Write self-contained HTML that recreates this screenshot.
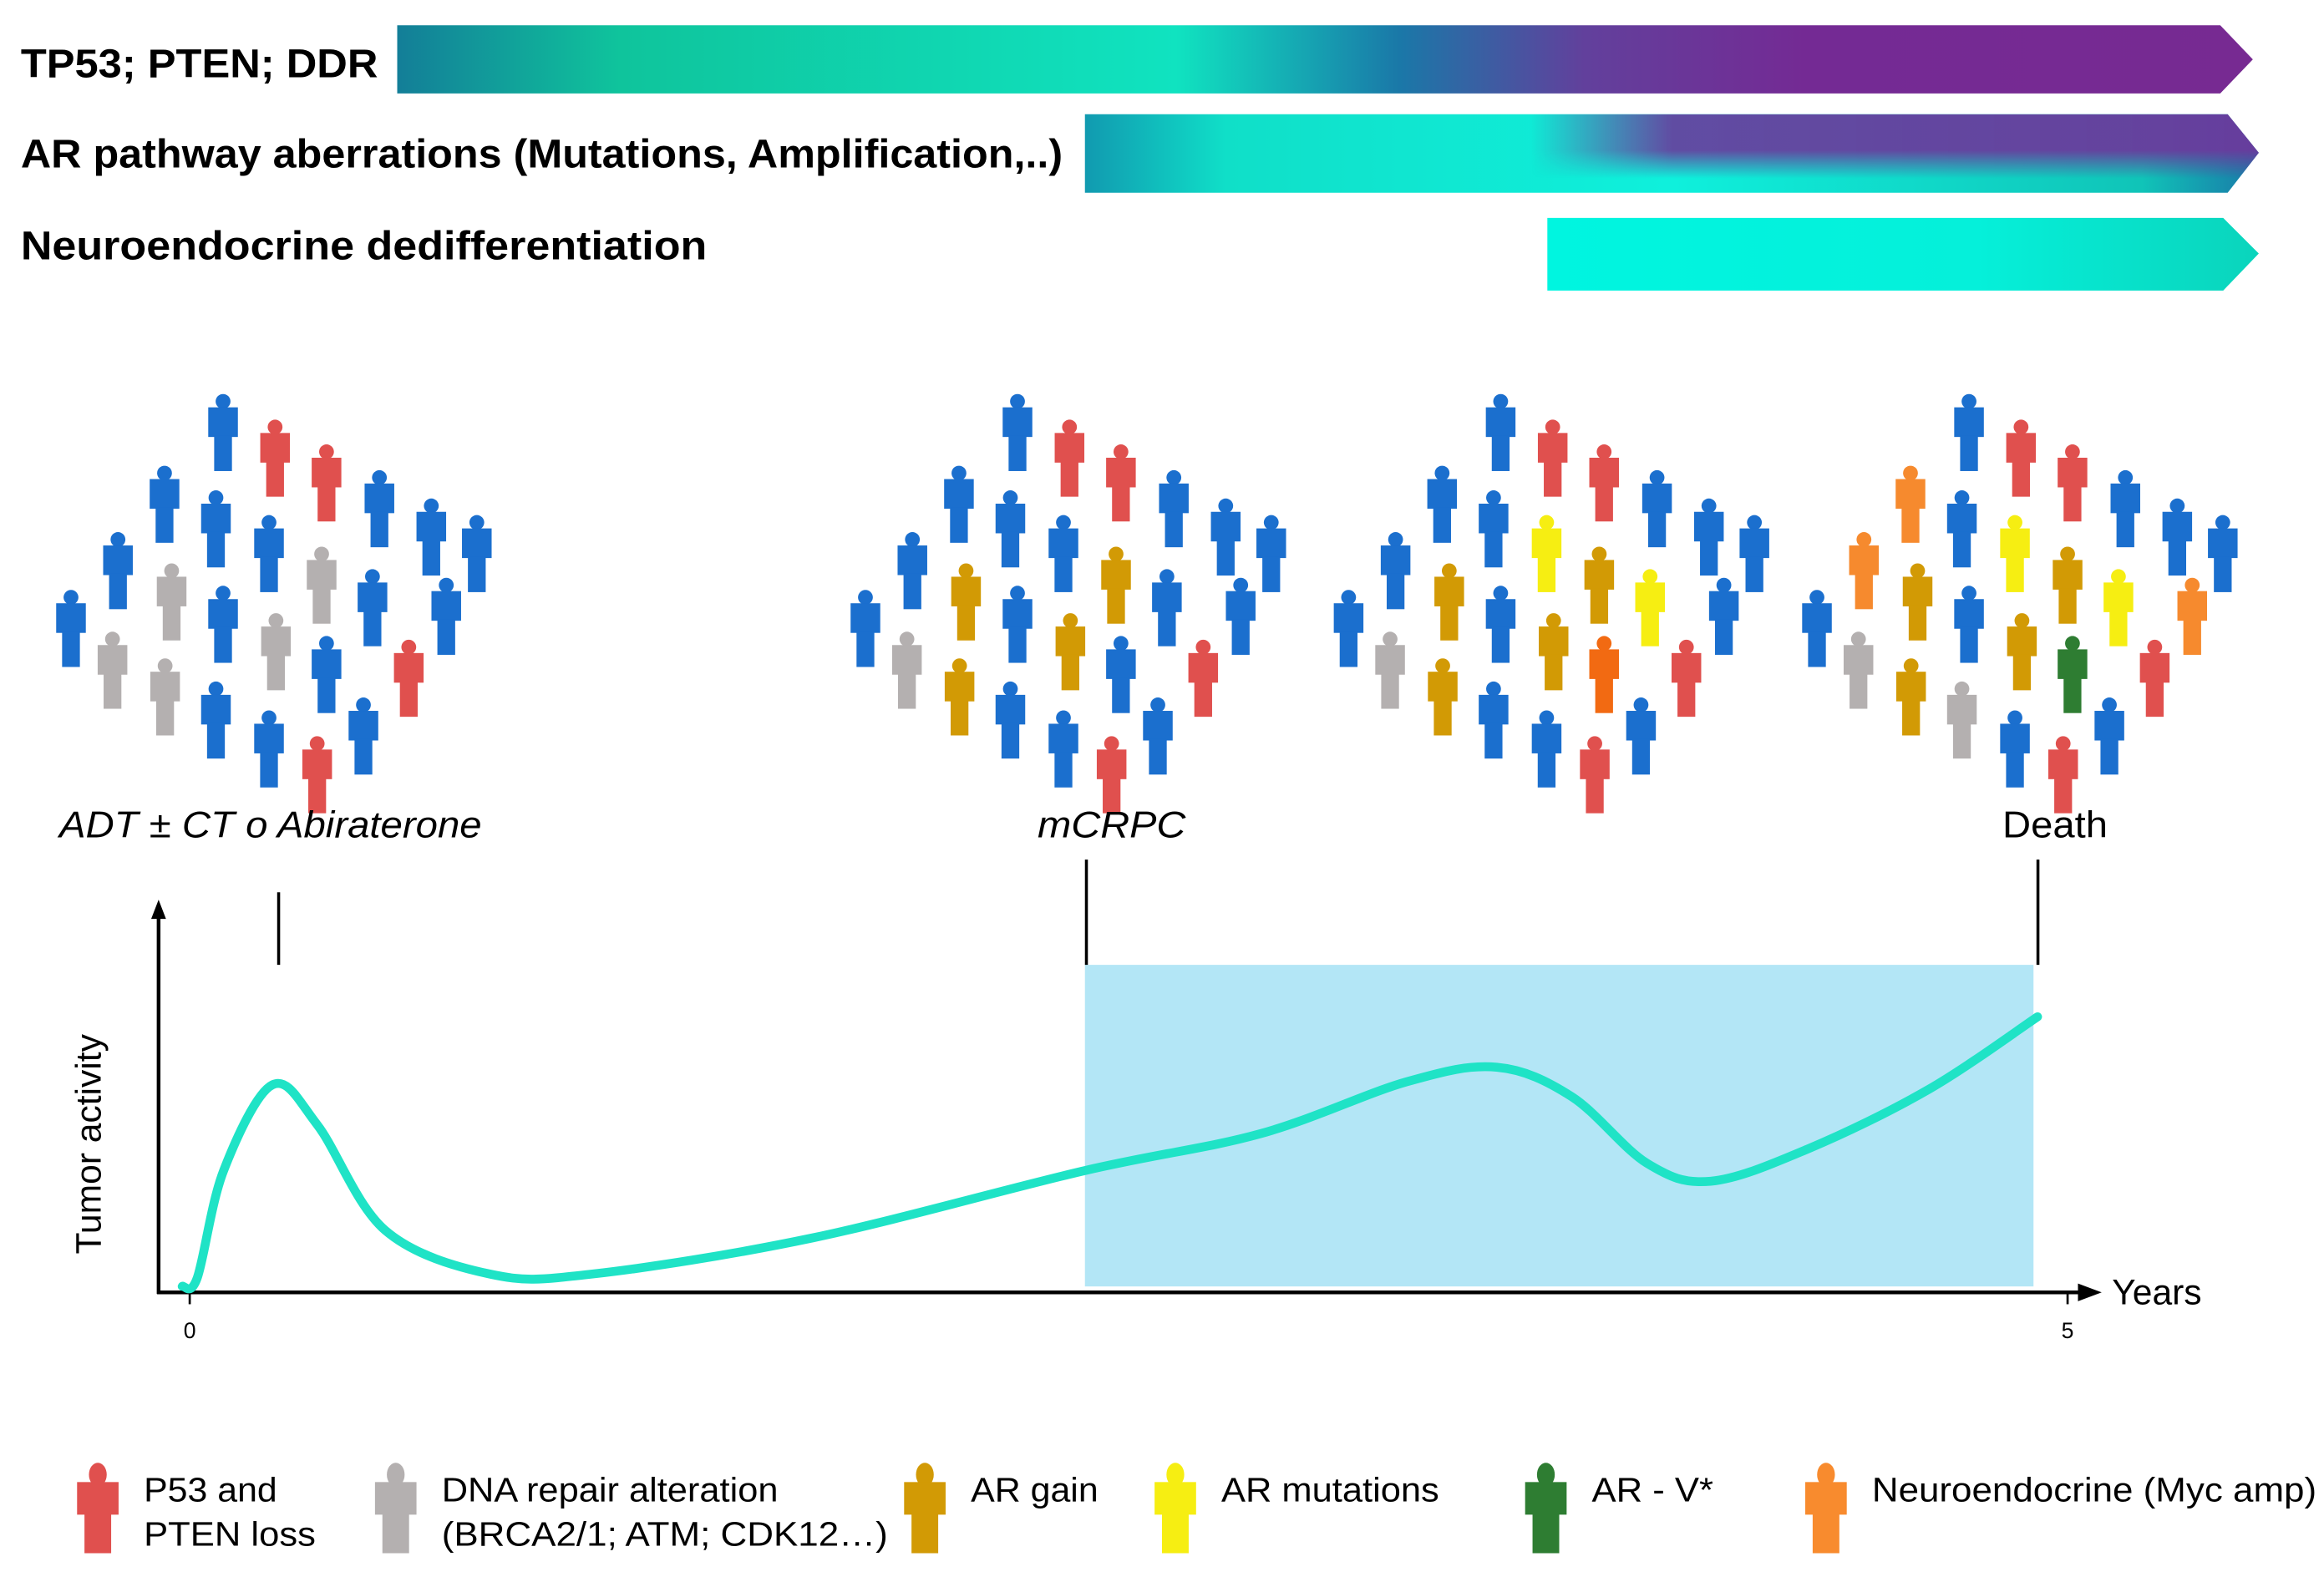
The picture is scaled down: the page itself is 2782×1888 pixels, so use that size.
<!DOCTYPE html>
<html><head><meta charset="utf-8"><style>
html,body{margin:0;padding:0;background:#fff;}
svg{display:block;font-family:"Liberation Sans",Arial,sans-serif;}
</style></head><body>
<svg id="fig" width="2782" height="1888" viewBox="0 0 1568 1064" xmlns="http://www.w3.org/2000/svg">
<defs>
<linearGradient id="g1" x1="0" y1="0" x2="1" y2="0">
<stop offset="0" stop-color="#137e98"/><stop offset="0.12" stop-color="#0fc49c"/><stop offset="0.42" stop-color="#10e3c0"/><stop offset="0.54" stop-color="#1a78a8"/><stop offset="0.64" stop-color="#62409c"/><stop offset="0.76" stop-color="#742a94"/><stop offset="1" stop-color="#772a92"/>
</linearGradient>
<linearGradient id="g2" x1="0" y1="0" x2="1" y2="0">
<stop offset="0" stop-color="#119ab0"/><stop offset="0.12" stop-color="#10dfc8"/><stop offset="0.5" stop-color="#0ff0dc"/><stop offset="0.9" stop-color="#10c4b8"/><stop offset="1" stop-color="#1a78a8"/>
</linearGradient>
<linearGradient id="g2top" x1="0" y1="0" x2="1" y2="0">
<stop offset="0" stop-color="#7a2a94" stop-opacity="0"/><stop offset="0.38" stop-color="#7a2a94" stop-opacity="0"/><stop offset="0.5" stop-color="#6a3a9c" stop-opacity="0.9"/><stop offset="1" stop-color="#6a3a9c" stop-opacity="0.95"/>
</linearGradient>
<linearGradient id="g2v" x1="0" y1="0" x2="0" y2="1">
<stop offset="0" stop-color="#fff"/><stop offset="0.45" stop-color="#fff"/><stop offset="0.8" stop-color="#000"/>
</linearGradient>
<mask id="m2"><rect x="732" y="77" width="800" height="54" fill="url(#g2v)"/></mask>
<linearGradient id="g3" x1="0" y1="0" x2="1" y2="0">
<stop offset="0" stop-color="#00f5e0"/><stop offset="0.6" stop-color="#05f0da"/><stop offset="1" stop-color="#0ad4bc"/>
</linearGradient>
</defs>

<text x="14" y="52" font-size="27" font-weight="bold" textLength="241" lengthAdjust="spacingAndGlyphs">TP53; PTEN; DDR</text>
<polygon points="268,17 1498,17 1520,40 1498,63 268,63" fill="url(#g1)"/>
<text x="14" y="113" font-size="27" font-weight="bold" textLength="703" lengthAdjust="spacingAndGlyphs">AR pathway aberrations (Mutations, Amplification,..)</text>
<g>
<polygon points="732,77 1503,77 1524,103 1503,130 732,130" fill="url(#g2)"/>
<polygon points="732,77 1503,77 1524,103 1503,130 732,130" fill="url(#g2top)" mask="url(#m2)"/>
</g>
<text x="14" y="175" font-size="27" font-weight="bold" textLength="463" lengthAdjust="spacingAndGlyphs">Neuroendocrine dedifferentiation</text>
<polygon points="1044,147 1500,147 1524,171 1500,196 1044,196" fill="url(#g3)"/>

<g id="crowds"></g>

<text x="40" y="565" font-size="25" font-style="italic" textLength="285" lengthAdjust="spacingAndGlyphs">ADT ± CT o Abiraterone</text>
<text x="700" y="565" font-size="25" font-style="italic" textLength="100" lengthAdjust="spacingAndGlyphs">mCRPC</text>
<text x="1351" y="565" font-size="25" textLength="71" lengthAdjust="spacingAndGlyphs">Death</text>

<rect x="732" y="651" width="640" height="217" fill="#b3e6f6"/>
<line x1="188" y1="602" x2="188" y2="651" stroke="#000" stroke-width="2"/>
<line x1="733" y1="580" x2="733" y2="651" stroke="#000" stroke-width="2"/>
<line x1="1375" y1="580" x2="1375" y2="651" stroke="#000" stroke-width="2"/>

<g id="chart">
<line x1="107" y1="873" x2="107" y2="618" stroke="#000" stroke-width="2.5"/>
<polygon points="107,607 102,620 112,620" fill="#000"/>
<line x1="106" y1="872" x2="1405" y2="872" stroke="#000" stroke-width="2.5"/>
<polygon points="1418,872 1402,866 1402,878" fill="#000"/>
<text x="1425" y="880" font-size="24">Years</text>
<text transform="translate(68,772) rotate(-90)" font-size="24" text-anchor="middle">Tumor activity</text>
<g id="ticks"></g>
<path id="curve" fill="none" stroke="#1fe3c6" stroke-width="6" stroke-linecap="round"/>
</g>

<g id="legend"></g>
</svg>
<script>
// Chart data
const curveYears = [-0.02, 0.02, 0.09, 0.22, 0.34, 0.52, 0.80, 1.07, 1.66, 2.38, 2.85, 3.24, 3.48, 3.68, 3.88, 4.05, 4.31, 4.63, 4.92];
const curveActivity = [0.008, 0.03, 0.31, 0.535, 0.43, 0.155, 0.04, 0.04, 0.135, 0.31, 0.407, 0.543, 0.581, 0.504, 0.33, 0.283, 0.368, 0.523, 0.713];
const xTickValues = [0, 5];
const xTickLabels = ["0", "5"];

const NS = "http://www.w3.org/2000/svg";
function xScale(v){ return 128 + v * 253.4; }
function yScale(v){ return 870 - v * 258; }

const ticks = document.getElementById('ticks');
xTickValues.forEach((v, i) => {
  const l = document.createElementNS(NS, 'line');
  l.setAttribute('x1', xScale(v)); l.setAttribute('x2', xScale(v));
  l.setAttribute('y1', 872); l.setAttribute('y2', 880);
  l.setAttribute('stroke', '#000'); l.setAttribute('stroke-width', 1.5);
  
  
  ticks.appendChild(l);
  const t = document.createElementNS(NS, 'text');
  t.setAttribute('x', xScale(v)); t.setAttribute('y', 903);
  t.setAttribute('font-size', 15); t.setAttribute('text-anchor', 'middle');
  t.textContent = xTickLabels[i];
  
  
  ticks.appendChild(t);
});

const pts = curveYears.map((v, i) => [xScale(v), yScale(curveActivity[i])]);
let d = `M${pts[0][0]},${pts[0][1]}`;
for (let i = 0; i < pts.length - 1; i++) {
  const p0 = pts[i - 1] || pts[i], p1 = pts[i], p2 = pts[i + 1], p3 = pts[i + 2] || p2;
  const c1 = [p1[0] + (p2[0] - p0[0]) / 6, p1[1] + (p2[1] - p0[1]) / 6];
  const c2 = [p2[0] - (p3[0] - p1[0]) / 6, p2[1] - (p3[1] - p1[1]) / 6];
  d += ` C${c1[0]},${c1[1]} ${c2[0]},${c2[1]} ${p2[0]},${p2[1]}`;
}
document.getElementById('curve').setAttribute('d', d);

const COLORS = {B:'#1b6fce', R:'#e0504e', G:'#b4b0b0', A:'#d29a05', Y:'#f6ee12', O:'#f68a2e', D:'#f26a12', V:'#2e7d32'};
const slotX = [150.5,185.6,220.3,111.0,145.7,181.5,256.0,291.0,321.7,79.6,115.8,150.5,217.0,251.3,301.1,47.9,75.9,186.2,220.3,275.8,111.4,145.7,181.5,245.2,214.0];
const slotY = [270.8,288.1,304.8,319.2,335.8,352.5,322.2,341.3,352.5,364.0,385.1,400.2,373.8,389.0,394.8,403.0,431.2,418.7,434.1,436.6,449.2,464.8,484.3,475.6,501.7];
const crowdOffsets = [0, 536, 862, 1178];
const crowdColors = [
  "BRRBBBBBBBGBGBBBGGBRGBBBR",
  "BRRBBBBBBBABABBBGABRABBBR",
  "BRRBBYBBBBABAYBBGADRABBBR",
  "BRROBYBBBOABAYOBGAVRAGBBR"
];
function person(parent, cx, cy, color, s, name){
  const g = document.createElementNS(NS, 'g');
  
  
  g.setAttribute('fill', color);
  const h = document.createElementNS(NS, 'circle');
  h.setAttribute('cx', cx); h.setAttribute('cy', cy); h.setAttribute('r', 5 * s);
  g.appendChild(h);
  const b = document.createElementNS(NS, 'rect');
  b.setAttribute('x', cx - 10 * s); b.setAttribute('y', cy + 4 * s);
  b.setAttribute('width', 20 * s); b.setAttribute('height', 20 * s);
  g.appendChild(b);
  const l = document.createElementNS(NS, 'rect');
  l.setAttribute('x', cx - 6 * s); l.setAttribute('y', cy + 23 * s);
  l.setAttribute('width', 12 * s); l.setAttribute('height', 24 * s);
  g.appendChild(l);
  parent.appendChild(g);
}
const crowds = document.getElementById('crowds');
crowdOffsets.forEach((off, c) => {
  const g = document.createElementNS(NS, 'g');
  
  
  crowds.appendChild(g);
  slotX.forEach((x, i) => person(g, x + off, slotY[i], COLORS[crowdColors[c][i]], 1, 'patient-figure'));
});

const legendColors = ['R','G','A','Y','V','O'];
const legendX = [66, 267, 624, 793, 1043, 1232];
const legendText = [["P53 and","PTEN loss"],["DNA repair alteration","(BRCA2/1; ATM; CDK12…)"],["AR gain"],["AR mutations"],["AR - V*"],["Neuroendocrine (Myc amp)"]];
const legendTextW = [[90,116],[227,301],[86],[147],[82],[300]];
const legend = document.getElementById('legend');
legendX.forEach((x, i) => {
  const g = document.createElementNS(NS, 'g');
  
  
  legend.appendChild(g);
  const c = legendColors[i] === 'O' ? '#f88b2e' : COLORS[legendColors[i]];
  const fg = document.createElementNS(NS, 'g');
  fg.setAttribute('fill', c);
  
  
  const h = document.createElementNS(NS, 'ellipse');
  h.setAttribute('cx', x); h.setAttribute('cy', 995); h.setAttribute('rx', 6); h.setAttribute('ry', 8);
  fg.appendChild(h);
  const b = document.createElementNS(NS, 'rect');
  b.setAttribute('x', x - 14); b.setAttribute('y', 1000); b.setAttribute('width', 28); b.setAttribute('height', 22);
  fg.appendChild(b);
  const l = document.createElementNS(NS, 'rect');
  l.setAttribute('x', x - 9); l.setAttribute('y', 1021); l.setAttribute('width', 18); l.setAttribute('height', 27);
  fg.appendChild(l);
  g.appendChild(fg);
  legendText[i].forEach((s, j) => {
    const t = document.createElementNS(NS, 'text');
    t.setAttribute('x', x + 31); t.setAttribute('y', 1013 + j * 30);
    t.setAttribute('font-size', 23);
    t.setAttribute('textLength', legendTextW[i][j]);
    t.setAttribute('lengthAdjust', 'spacingAndGlyphs');
    t.textContent = s;
    
    
    g.appendChild(t);
  });
});
</script>
</body></html>
